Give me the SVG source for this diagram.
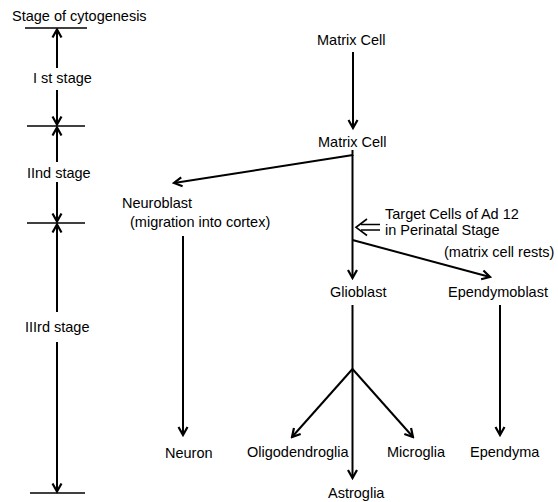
<svg xmlns="http://www.w3.org/2000/svg" width="558" height="502" viewBox="0 0 558 502">
<style>
text{font-family:"Liberation Sans",Arial,sans-serif;font-size:14.5px;fill:#000}
.ln{stroke:#000;stroke-width:2;fill:none}
.tk{stroke:#000;stroke-width:1.6;fill:none}
.ar{stroke:#000;stroke-width:2;fill:none;marker-end:url(#ah)}
</style>
<defs>
<marker id="ah" viewBox="-10 -6 12 12" refX="0" refY="0" markerWidth="12" markerHeight="12" markerUnits="userSpaceOnUse" orient="auto">
<path d="M-8,-4.5 L0,0 L-8,4.5" fill="none" stroke="#000" stroke-width="2.2" stroke-linejoin="miter"/>
</marker>
</defs>
<rect width="558" height="502" fill="#fff"/>
<g id="stage-scale">
<text x="12" y="20.5">Stage of cytogenesis</text>
<line class="tk" x1="25" y1="28" x2="87" y2="28"/>
<line class="tk" x1="27" y1="126" x2="85" y2="126"/>
<line class="tk" x1="27" y1="223" x2="85" y2="223"/>
<line class="tk" x1="30" y1="493" x2="85" y2="493"/>
<text x="33" y="83">I st stage</text>
<text x="27" y="178">IInd stage</text>
<text x="25" y="332">IIIrd stage</text>
<line class="ar" x1="57" y1="68" x2="57" y2="29.5"/>
<line class="ar" x1="57" y1="90" x2="57" y2="124.5"/>
<line class="ar" x1="57" y1="162" x2="57" y2="127.5"/>
<line class="ar" x1="57" y1="182" x2="57" y2="221.5"/>
<line class="ar" x1="57" y1="312" x2="57" y2="224.5"/>
<line class="ar" x1="57" y1="342" x2="57" y2="491.5"/>
</g>
<g id="connectors">
<line class="ar" x1="353" y1="52" x2="353" y2="128"/>
<line class="ln" x1="352.5" y1="150" x2="352.5" y2="156"/>
<line class="ar" x1="353" y1="155" x2="174" y2="183"/>
<line class="ar" x1="352.5" y1="155" x2="352.5" y2="278"/>
<line class="ar" x1="352.5" y1="240" x2="490" y2="277"/>
<line class="ar" x1="183" y1="236" x2="183" y2="435"/>
<line class="ln" x1="352.5" y1="305" x2="352.5" y2="369"/>
<line class="ar" x1="352.5" y1="369" x2="292" y2="437"/>
<line class="ar" x1="352.5" y1="369" x2="413" y2="437"/>
<line class="ar" x1="352.5" y1="369" x2="352.5" y2="478"/>
<line class="ar" x1="500" y1="305" x2="500" y2="435"/>
</g>
<g id="target-marker">
<path class="tk" d="M361,224.5 H380 M361,230 H380"/>
<path class="tk" d="M367,219 L356,227.3 L367,235.5"/>
</g>
<g id="matrix-cell-1"><text x="317" y="45">Matrix Cell</text></g>
<g id="matrix-cell-2"><text x="318" y="147">Matrix Cell</text></g>
<g id="neuroblast"><text x="122" y="208">Neuroblast</text><text x="130" y="227">(migration into cortex)</text></g>
<g id="target-label"><text x="385" y="219">Target Cells of Ad 12</text><text x="385" y="235">in Perinatal Stage</text><text x="444" y="257">(matrix cell rests)</text></g>
<g id="glioblast"><text x="330" y="297">Glioblast</text></g>
<g id="ependymoblast"><text x="448" y="297">Ependymoblast</text></g>
<g id="neuron"><text x="165" y="458">Neuron</text></g>
<g id="oligodendroglia"><text x="247" y="457">Oligodendroglia</text></g>
<g id="microglia"><text x="387" y="457">Microglia</text></g>
<g id="ependyma"><text x="470" y="457">Ependyma</text></g>
<g id="astroglia"><text x="328" y="498">Astroglia</text></g>
</svg>
